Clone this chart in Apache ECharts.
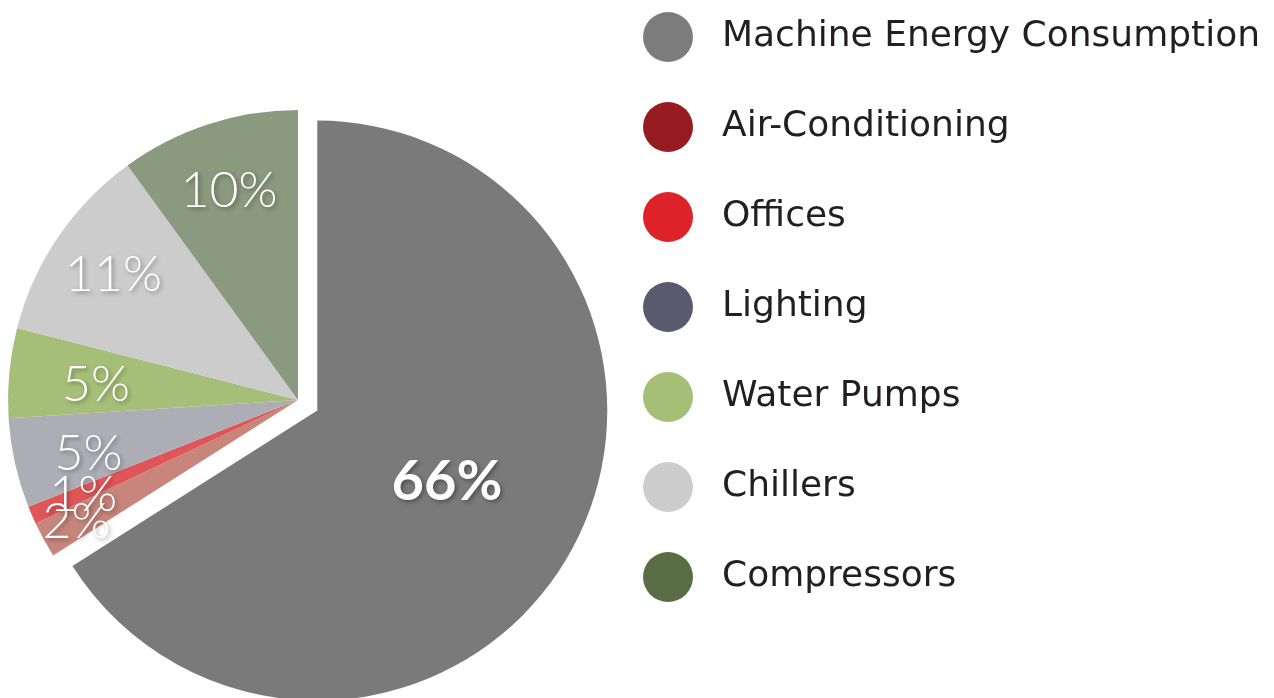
<!DOCTYPE html>
<html>
<head>
<meta charset="utf-8">
<script src="https://cdn.jsdelivr.net/npm/echarts@6/dist/echarts.min.js"></script>
<style>
  html, body { margin: 0; padding: 0; background: #fff; }
  #main { width: 1274px; height: 698px; }
</style>
</head>
<body>
<div id="main"></div>
<script>
var names = ['Machine Energy Consumption', 'Air-Conditioning', 'Offices', 'Lighting', 'Water Pumps', 'Chillers', 'Compressors'];
var values = [66, 2, 1, 5, 5, 11, 10];
var legendColors = ['#7b7c7b', '#961b20', '#dd2229', '#5a5a6e', '#a6bf77', '#cdcdcd', '#586d43'];
var sliceColors = ['#7a7a7a', '#c8857b', '#e05658', '#adadb6', '#a6bf78', '#cccccc', '#8a9a7e'];
// small nudges so the labels sit where the original has them
var labelNudge = [[0, 0], [-26, 14], [-10, 6], [8, 5], [20, 6], [0, 0], [0, 3]];

var shadow = {
  textShadowColor: 'rgba(0,0,0,0.35)',
  textShadowBlur: 4,
  textShadowOffsetX: 2,
  textShadowOffsetY: 2
};

var mainData = names.map(function (n, i) {
  return {
    name: n,
    value: values[i],
    selected: i === 0,
    itemStyle: { color: sliceColors[i] },
    label: { show: i === 0 }
  };
});

// transparent ring, only used to place the small labels further out
var labelData = names.map(function (n, i) {
  return {
    name: n,
    value: values[i],
    itemStyle: { color: 'rgba(0,0,0,0)' },
    label: { show: i !== 0, offset: labelNudge[i] }
  };
});

var chart = echarts.init(document.getElementById('main'));

chart.setOption({
  animation: false,
  legend: {
    orient: 'vertical',
    left: 638,
    top: 7,
    icon: 'circle',
    itemWidth: 50,
    itemHeight: 50,
    itemGap: 40,
    selectedMode: false,
    data: names.map(function (n, i) {
      return { name: n, itemStyle: { color: legendColors[i] } };
    }),
    textStyle: {
      fontFamily: 'DejaVu Sans',
      fontSize: 36,
      color: '#231f20',
      padding: [0, 0, 0, 24]
    }
  },
  series: [
    {
      type: 'pie',
      center: [298, 400],
      radius: [0, 290],
      startAngle: 90,
      selectedMode: 'single',
      selectedOffset: 22,
      silent: true,
      data: mainData,
      label: Object.assign({
        position: 'inside',
        formatter: '{c}%',
        color: '#fff',
        fontFamily: 'Lato',
        fontWeight: 'bold',
        fontSize: 56
      }, shadow),
      labelLine: { show: false }
    },
    {
      type: 'pie',
      center: [298, 400],
      radius: [150, 290],
      startAngle: 90,
      silent: true,
      avoidLabelOverlap: false,
      labelLayout: { hideOverlap: false },
      data: labelData,
      label: Object.assign({
        position: 'inside',
        formatter: '{c}%',
        color: '#fff',
        fontFamily: 'Lato',
        fontWeight: 300,
        fontSize: 50
      }, shadow),
      labelLine: { show: false }
    }
  ]
});
</script>
</body>
</html>
